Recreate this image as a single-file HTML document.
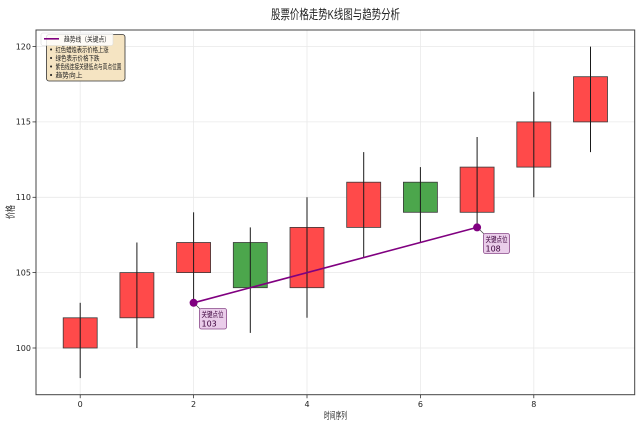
<!DOCTYPE html>
<html><head><meta charset="utf-8"><style>
html,body{margin:0;padding:0;background:#fff;}
svg{display:block;}
text{font-family:"DejaVu Sans","Liberation Sans","Noto Sans CJK SC",sans-serif;}
.cjk{font-family:"Liberation Sans","Noto Sans CJK SC",sans-serif;}
</style></head><body>
<svg width="640" height="425" viewBox="0 0 640 425" xmlns="http://www.w3.org/2000/svg">
<rect width="640" height="425" fill="#fff"/>
<!-- title -->
<text class="cjk" x="271" y="19" font-size="13" fill="#222" textLength="129" lengthAdjust="spacingAndGlyphs">股票价格走势K线图与趋势分析</text>
<!-- grid -->
<g stroke="#e9e9e9" stroke-width="0.8">
<line x1="80.2" y1="30" x2="80.2" y2="395"/>
<line x1="193.6" y1="30" x2="193.6" y2="395"/>
<line x1="307" y1="30" x2="307" y2="395"/>
<line x1="420.4" y1="30" x2="420.4" y2="395"/>
<line x1="533.8" y1="30" x2="533.8" y2="395"/>
<line x1="36" y1="348" x2="634.7" y2="348"/>
<line x1="36" y1="272.6" x2="634.7" y2="272.6"/>
<line x1="36" y1="197.3" x2="634.7" y2="197.3"/>
<line x1="36" y1="121.9" x2="634.7" y2="121.9"/>
<line x1="36" y1="46.6" x2="634.7" y2="46.6"/>
</g>
<!-- candles -->
<g stroke="#3a3a3a" stroke-width="0.8">
<rect x="63.2" y="317.8" width="34" height="30.2" fill="#ff4a4a"/>
<rect x="119.9" y="272.6" width="34" height="45.2" fill="#ff4a4a"/>
<rect x="176.6" y="242.5" width="34" height="30.1" fill="#ff4a4a"/>
<rect x="233.3" y="242.5" width="34" height="45.2" fill="#4ca64c"/>
<rect x="290" y="227.4" width="34" height="60.3" fill="#ff4a4a"/>
<rect x="346.7" y="182.2" width="34" height="45.2" fill="#ff4a4a"/>
<rect x="403.4" y="182.2" width="34" height="30.1" fill="#4ca64c"/>
<rect x="460.1" y="167.1" width="34" height="45.2" fill="#ff4a4a"/>
<rect x="516.8" y="121.9" width="34" height="45.2" fill="#ff4a4a"/>
<rect x="573.5" y="76.7" width="34" height="45.2" fill="#ff4a4a"/>
</g>
<g stroke="#1a1a1a" stroke-width="1">
<line x1="80.2" y1="302.8" x2="80.2" y2="378.1"/>
<line x1="136.9" y1="242.5" x2="136.9" y2="348"/>
<line x1="193.6" y1="212.3" x2="193.6" y2="302.8"/>
<line x1="250.3" y1="227.4" x2="250.3" y2="332.9"/>
<line x1="307" y1="197.3" x2="307" y2="317.8"/>
<line x1="363.7" y1="152.1" x2="363.7" y2="257.6"/>
<line x1="420.4" y1="167.1" x2="420.4" y2="242.5"/>
<line x1="477.1" y1="137" x2="477.1" y2="227.4"/>
<line x1="533.8" y1="91.8" x2="533.8" y2="197.3"/>
<line x1="590.5" y1="46.6" x2="590.5" y2="152.1"/>
</g>
<!-- trend line -->
<line x1="193.6" y1="302.8" x2="477.1" y2="227.4" stroke="#800080" stroke-width="1.6"/>
<circle cx="193.6" cy="302.8" r="4" fill="#800080"/>
<circle cx="477.1" cy="227.4" r="4" fill="#800080"/>
<!-- annotations -->
<line x1="200" y1="309" x2="196" y2="305" stroke="#444" stroke-width="0.7"/>
<rect x="199.5" y="308.5" width="27" height="20.5" rx="2" fill="#eacdea" stroke="#8a4a8a" stroke-width="0.8"/>
<text class="cjk" x="201.5" y="317" font-size="7.5" fill="#3a003a" textLength="22" lengthAdjust="spacingAndGlyphs">关键点位</text>
<text x="201.5" y="326.5" font-size="8" fill="#3a003a">103</text>
<line x1="484" y1="234" x2="480" y2="230" stroke="#444" stroke-width="0.7"/>
<rect x="483.5" y="233.5" width="26" height="20" rx="2" fill="#eacdea" stroke="#8a4a8a" stroke-width="0.8"/>
<text class="cjk" x="485.5" y="242" font-size="7.5" fill="#3a003a" textLength="22" lengthAdjust="spacingAndGlyphs">关键点位</text>
<text x="485.5" y="251.5" font-size="8" fill="#3a003a">108</text>
<!-- frame -->
<rect x="36" y="30" width="598.7" height="364.7" fill="none" stroke="#444" stroke-width="1"/>
<!-- ticks -->
<g stroke="#333" stroke-width="0.8">
<line x1="32.5" y1="348" x2="36" y2="348"/>
<line x1="32.5" y1="272.6" x2="36" y2="272.6"/>
<line x1="32.5" y1="197.3" x2="36" y2="197.3"/>
<line x1="32.5" y1="121.9" x2="36" y2="121.9"/>
<line x1="32.5" y1="46.6" x2="36" y2="46.6"/>
<line x1="80.2" y1="394.7" x2="80.2" y2="398.2"/>
<line x1="193.6" y1="394.7" x2="193.6" y2="398.2"/>
<line x1="307" y1="394.7" x2="307" y2="398.2"/>
<line x1="420.4" y1="394.7" x2="420.4" y2="398.2"/>
<line x1="533.8" y1="394.7" x2="533.8" y2="398.2"/>
</g>
<g font-size="8" fill="#222" text-anchor="end">
<text x="31" y="350.8">100</text>
<text x="31" y="275.4">105</text>
<text x="31" y="200.1">110</text>
<text x="31" y="124.7">115</text>
<text x="31" y="49.4">120</text>
</g>
<g font-size="8" fill="#222" text-anchor="middle">
<text x="80.2" y="407">0</text>
<text x="193.6" y="407">2</text>
<text x="307" y="407">4</text>
<text x="420.4" y="407">6</text>
<text x="533.8" y="407">8</text>
</g>
<text class="cjk" x="324" y="419" font-size="9.5" fill="#222" textLength="23" lengthAdjust="spacingAndGlyphs">时间序列</text>
<text class="cjk" transform="translate(14,219) rotate(-90)" font-size="10" fill="#222" textLength="14" lengthAdjust="spacingAndGlyphs">价格</text>
<!-- info box -->
<rect x="46.5" y="34.5" width="78.5" height="46.5" rx="2.5" fill="#f5e4c2" stroke="#333" stroke-width="0.8"/>
<g font-size="7" fill="#222">
<text x="49" y="52">•</text>
<text x="49" y="60.5">•</text>
<text x="49" y="69">•</text>
<text x="49" y="77.5">•</text>
</g>
<g class="cjk" font-size="7" fill="#222">
<text class="cjk" x="55.5" y="52" textLength="53" lengthAdjust="spacingAndGlyphs">红色蜡烛表示价格上涨</text>
<text class="cjk" x="55.5" y="60.5" textLength="44" lengthAdjust="spacingAndGlyphs">绿色表示价格下跌</text>
<text class="cjk" x="55.5" y="69" textLength="66" lengthAdjust="spacingAndGlyphs">紫色线连接关键低点与高点位置</text>
<text class="cjk" x="55.5" y="77.5" textLength="27" lengthAdjust="spacingAndGlyphs">趋势向上</text>
</g>
<!-- legend -->
<rect x="41" y="33" width="72" height="12.5" rx="2" fill="#fff" fill-opacity="0.85" stroke="#dcdcdc" stroke-width="0.6"/>
<line x1="44" y1="38.8" x2="59" y2="38.8" stroke="#800080" stroke-width="1.6"/>
<text class="cjk" x="64" y="41.5" font-size="7" fill="#222" textLength="46" lengthAdjust="spacingAndGlyphs">趋势线（关键点）</text>
</svg>
</body></html>
